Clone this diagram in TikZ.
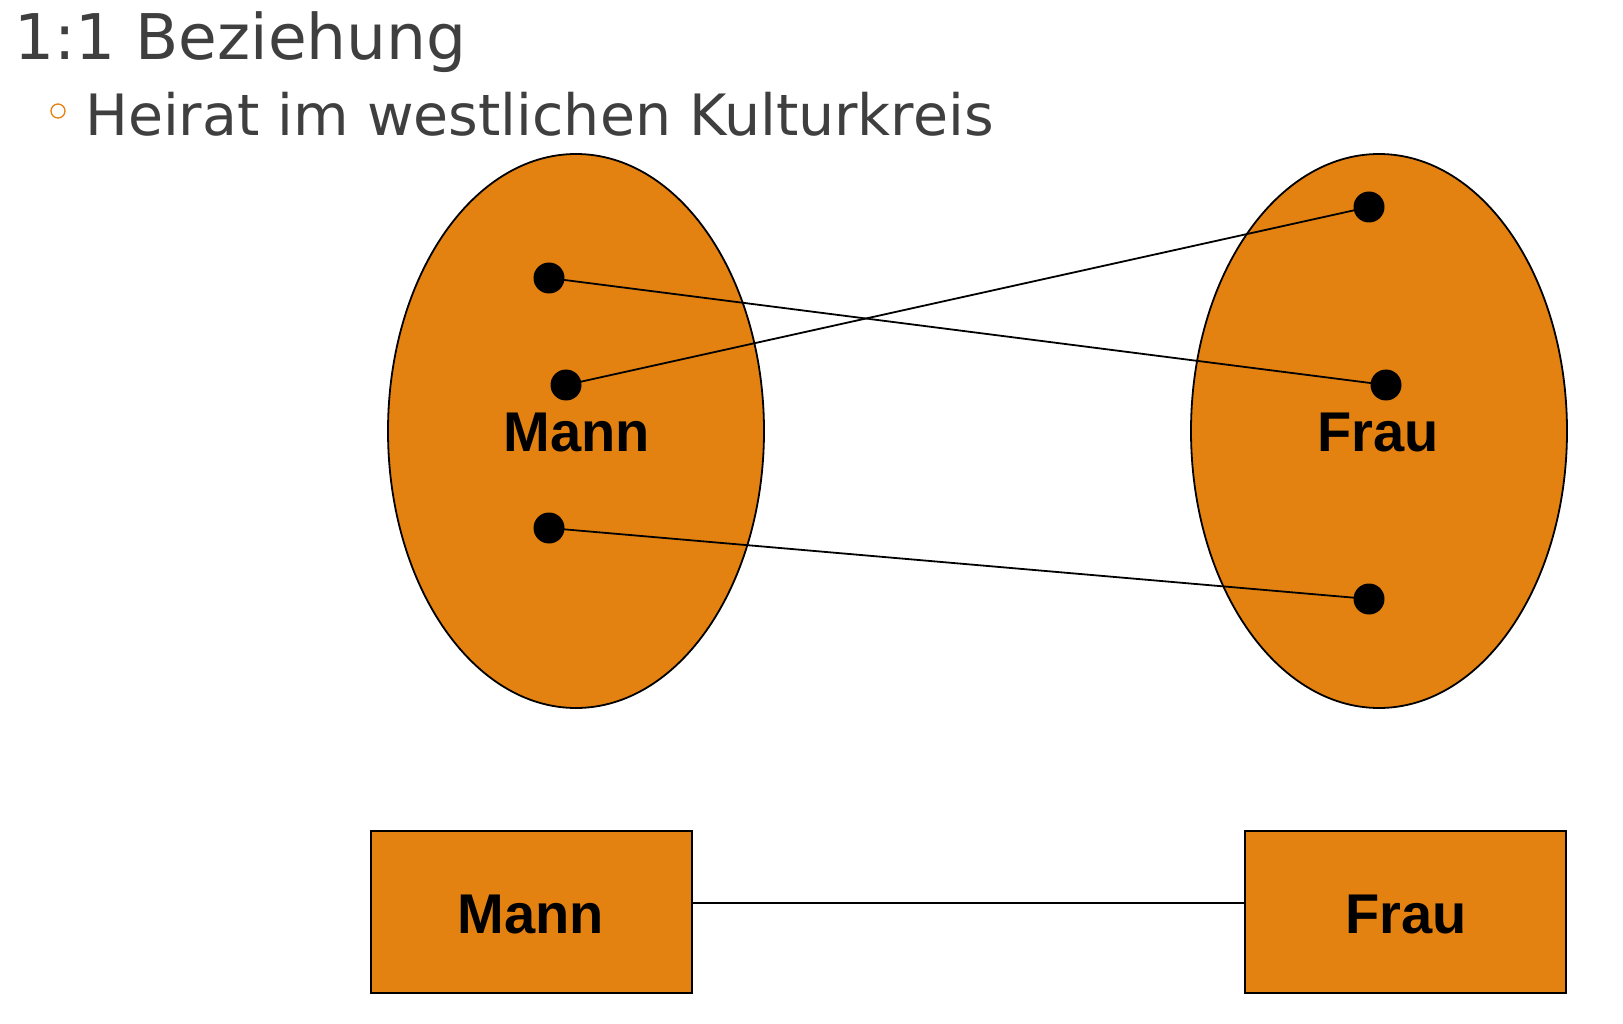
\documentclass[tikz,border=0pt]{standalone}
\usepackage{fontspec}
\setmainfont{Liberation Sans}
\newfontfamily\titlefont{DejaVu Sans}
\usetikzlibrary{shapes.geometric}
\definecolor{setorange}{HTML}{E48211}
\definecolor{titlegray}{HTML}{3F3F3F}
\tikzset{
  setshape/.style={ellipse, draw=black, fill=setorange, line width=1.8pt, minimum width=376pt, minimum height=554pt, inner sep=0pt},
  entitybox/.style={rectangle, draw=black, fill=setorange, line width=1.8pt, minimum width=321pt, minimum height=162pt, inner sep=0pt},
  elemdot/.style={circle, fill=black, minimum size=31pt, inner sep=0pt},
  biglabel/.style={font=\fontsize{56}{60}\selectfont\bfseries, text=black, inner sep=0pt},
  link/.style={draw=black, line width=1.8pt},
}
\begin{document}
\begin{tikzpicture}[x=1pt,y=-1pt]
\useasboundingbox (0,0) rectangle (1623,1024);
\fill[white] (0,0) rectangle (1623,1024);
% titles
\node[anchor=base west, inner sep=0pt, text=titlegray, font=\titlefont\fontsize{63}{70}\selectfont] (title) at (14,60) {1:1 Beziehung};
\node[circle, draw=setorange, line width=1.3pt, minimum size=14pt, inner sep=0pt] (bullet) at (58,111) {};
\node[anchor=base west, inner sep=0pt, text=titlegray, font=\titlefont\fontsize{57}{64}\selectfont] (sub) at (85,136) {Heirat im westlichen Kulturkreis};
% sets
\node[setshape] (mset) at (576,431) {};
\node[setshape] (fset) at (1379,431) {};
\node[biglabel] (mlabel) at (577,433) {Mann};
\node[biglabel] (flabel) at (1378,433) {Frau};
% elements
\node[elemdot] (m1) at (549,278) {};
\node[elemdot] (m2) at (566,385) {};
\node[elemdot] (m3) at (549,528) {};
\node[elemdot] (f1) at (1369,207) {};
\node[elemdot] (f2) at (1386,385) {};
\node[elemdot] (f3) at (1369,599) {};
\draw[link] (m1.center) -- (f2.center);
\draw[link] (m2.center) -- (f1.center);
\draw[link] (m3.center) -- (f3.center);
% entity boxes
\node[entitybox] (mbox) at (531.5,912) {};
\node[entitybox] (fbox) at (1405.5,912) {};
\node[biglabel] (mboxlabel) at (531,915) {Mann};
\node[biglabel] (fboxlabel) at (1406,915) {Frau};
\coordinate (mlink) at ([yshift=9pt]mbox.east);
\coordinate (flink) at ([yshift=9pt]fbox.west);
\draw[link] (mlink) -- (flink);
\end{tikzpicture}
\end{document}
